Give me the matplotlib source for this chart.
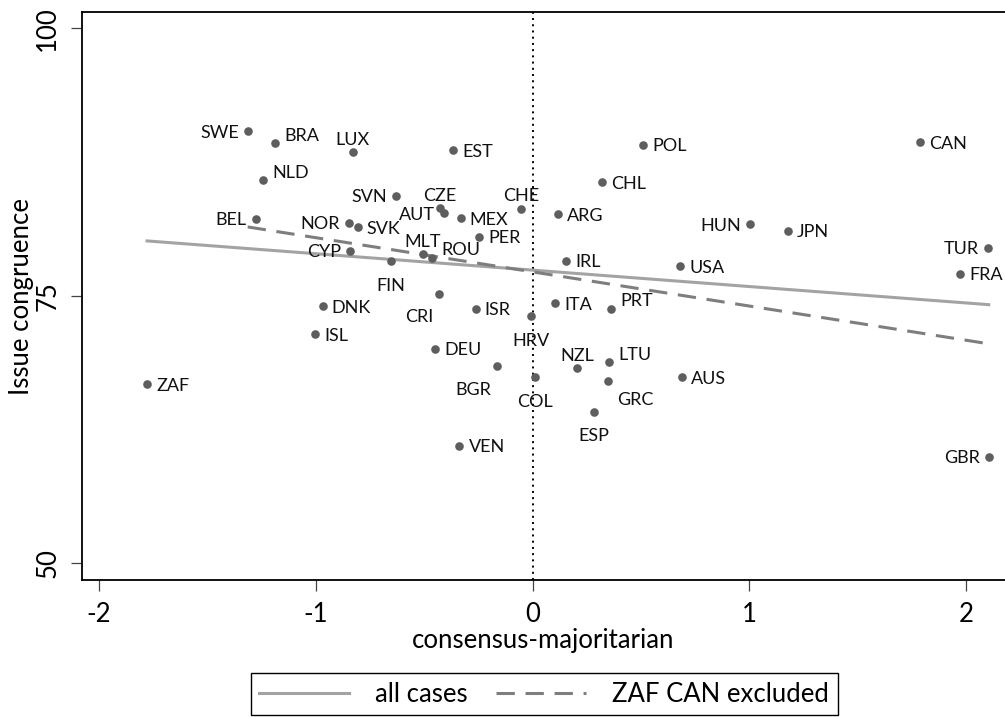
import numpy as np
import matplotlib
matplotlib.use("Agg")
import matplotlib.pyplot as plt

plt.rcParams["font.family"] = ["Lato", "DejaVu Sans"]

countries = ["SWE", "BRA", "NLD", "BEL", "LUX", "EST", "SVN", "CZE", "AUT", "MEX",
             "CHE", "ARG", "NOR", "SVK", "PER", "CYP", "MLT", "ROU", "FIN", "IRL",
             "CRI", "DNK", "ISR", "ITA", "PRT", "HRV", "ISL", "POL", "CAN", "CHL",
             "HUN", "JPN", "TUR", "FRA", "USA", "ZAF", "DEU", "BGR", "COL", "NZL",
             "LTU", "GRC", "ESP", "VEN", "AUS", "GBR"]
consensus_majoritarian = [-1.313, -1.186, -1.243, -1.275, -0.829, -0.365, -0.631, -0.426, -0.407, -0.331,
                          -0.053, 0.119, -0.847, -0.806, -0.245, -0.841, -0.505, -0.462, -0.652, 0.154,
                          -0.430, -0.967, -0.262, 0.105, 0.362, -0.008, -1.001, 0.511, 1.787, 0.322,
                          1.003, 1.177, 2.100, 1.971, 0.680, -1.777, -0.448, -0.165, 0.013, 0.205,
                          0.353, 0.348, 0.284, -0.337, 0.689, 2.103]
issue_congruence = [90.4, 89.25, 85.8, 82.2, 88.4, 88.6, 84.35, 83.2, 82.7, 82.25,
                    83.15, 82.6, 81.8, 81.4, 80.5, 79.2, 78.9, 78.56, 78.2, 78.25,
                    75.2, 74.0, 73.8, 74.3, 73.8, 73.1, 71.4, 89.1, 89.35, 85.6,
                    81.7, 81.06, 79.5, 77.07, 77.75, 66.7, 70.06, 68.4, 67.4, 68.2,
                    68.8, 67.04, 64.17, 60.96, 67.4, 59.96]
# clock position of each marker label
label_clock = [9, 1, 1, 9, 12, 3, 9, 12, 9, 3,
               12, 3, 9, 3, 3, 9, 12, 1, 6, 3,
               7, 3, 3, 3, 1, 6, 3, 3, 3, 3,
               9, 3, 9, 3, 3, 3, 3, 7, 6, 12,
               1, 5, 6, 3, 3, 9]
excluded = ["ZAF", "CAN"]

x_ticks = [-2, -1, 0, 1, 2]
y_ticks = [50, 75, 100]

x = np.array(consensus_majoritarian)
y = np.array(issue_congruence)

fig = plt.figure(figsize=(10.05, 7.17), dpi=100)
ax = fig.add_axes([82 / 1005, 137 / 717, (1005 - 82) / 1005, (580 - 12.3) / 717])
ax.set_xlim(-2.077, 2.178)
ax.set_ylim(48.42, 101.5)

ax.axvline(0, color="black", lw=1.4, ls=(0, (1, 2.2)), zorder=1)

# fitted lines: all cases, and without the excluded cases
b_all, a_all = np.polyfit(x, y, 1)
keep = np.array([c not in excluded for c in countries])
b_sub, a_sub = np.polyfit(x[keep], y[keep], 1)
xs_all = np.array([x.min(), x.max()])
xs_sub = np.array([x[keep].min(), x[keep].max()])
ax.plot(xs_all, a_all + b_all * xs_all, color="#a3a3a3", lw=2.2, zorder=2,
        label="all cases")
ax.plot(xs_sub, a_sub + b_sub * xs_sub, color="#7e7e7e", lw=2.2, ls=(0, (6, 3.5)),
        zorder=2, label="ZAF CAN excluded")

ax.plot(x, y, "o", color="#5e5e5e", ms=6.2, mec="none", zorder=3)

# offsets in pixels for each clock position
offsets = {
    3: (9, 0, "left"),
    9: (-9, 0, "right"),
    12: (0, 14, "center"),
    6: (0, -23, "center"),
    1: (9, 9, "left"),
    7: (-6, -22, "right"),
    5: (9, -18, "left"),
}
px2pt = 0.72
for c, xi, yi, pos in zip(countries, x, y, label_clock):
    dx, dy, ha = offsets[pos]
    ax.annotate(c, (xi, yi), xytext=(dx * px2pt, dy * px2pt), textcoords="offset points",
                ha=ha, va="center_baseline", fontsize=13, color="#111111", zorder=4)

ax.set_xticks(x_ticks)
ax.set_xticklabels([str(t) for t in x_ticks])
ax.set_yticks(y_ticks)
ax.set_yticklabels([str(t) for t in y_ticks], rotation=90, va="center")
ax.tick_params(axis="both", direction="out", length=7.7, width=0.9, color="#444444",
               labelsize=18.5, pad=8)

for side in ["left", "top", "bottom"]:
    ax.spines[side].set_linewidth(1.3)
    ax.spines[side].set_color("black")
ax.spines["right"].set_visible(False)

ax.set_xlabel("consensus-majoritarian", fontsize=18.5, labelpad=1)
ax.set_ylabel("Issue congruence", fontsize=18.5, labelpad=1)

handles, labels = ax.get_legend_handles_labels()
leg = fig.legend(handles, labels, loc="center", bbox_to_anchor=(544 / 1005, 1 - 694 / 717),
                 ncol=2, fontsize=18.5, frameon=True, fancybox=False, framealpha=1,
                 edgecolor="black", handlelength=3.5, columnspacing=1.1, handletextpad=1.0,
                 borderpad=0.35)
leg.get_frame().set_linewidth(1.0)

fig.savefig("out.png", dpi=100)
